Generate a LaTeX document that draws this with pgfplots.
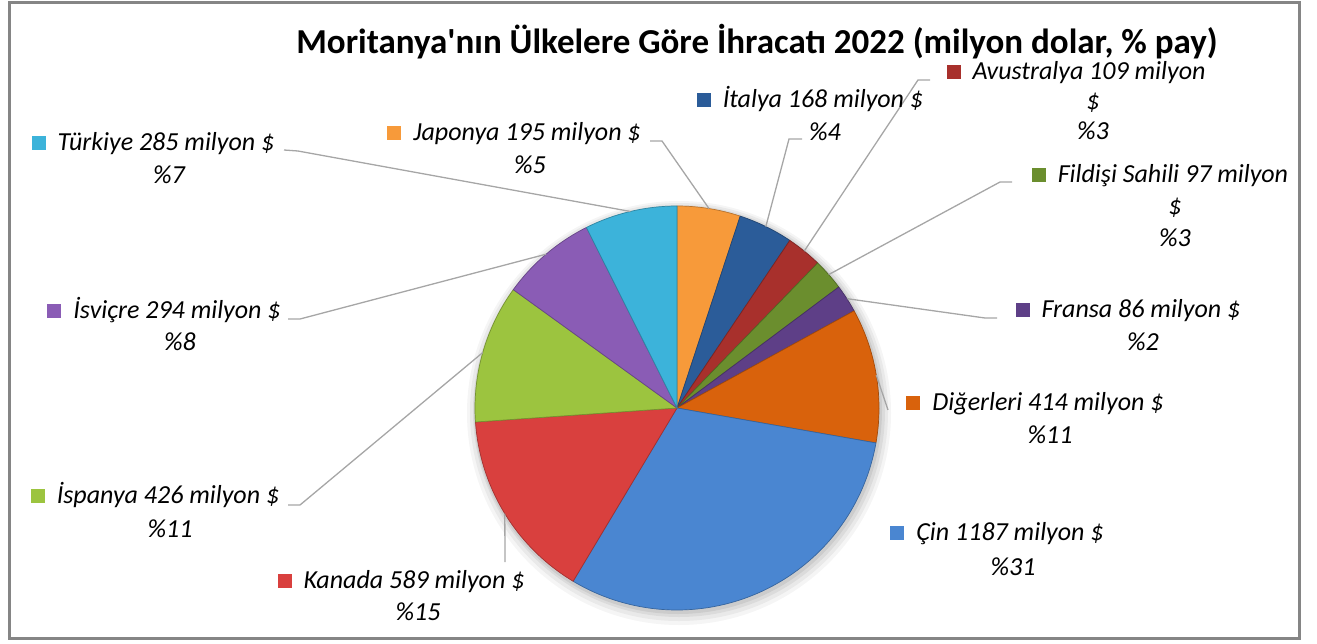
\documentclass[border=0pt]{standalone}
\usepackage{fontspec}
\setmainfont{Carlito}
\newfontfamily\tfont{Carlito}
\usepackage{pgfplots}
\usepackage{pgfplotstable}
\pgfplotsset{compat=1.18}
\usetikzlibrary{calc}

\definecolor{cJap}{HTML}{F79A3A}
\definecolor{cIta}{HTML}{2B5C99}
\definecolor{cAvu}{HTML}{A8302C}
\definecolor{cFil}{HTML}{6B8E2E}
\definecolor{cFra}{HTML}{5E3F87}
\definecolor{cDig}{HTML}{D9620C}
\definecolor{cCin}{HTML}{4A86D1}
\definecolor{cKan}{HTML}{D9403E}
\definecolor{cIsp}{HTML}{9CC43F}
\definecolor{cIsv}{HTML}{8A5CB5}
\definecolor{cTur}{HTML}{3CB3DA}
\definecolor{leader}{HTML}{A6A6A6}

% slices in clockwise order starting at 12 o'clock
\pgfplotstableread{
key value col
Japonya 195 cJap
Italya 168 cIta
Avustralya 109 cAvu
Fildisi 97 cFil
Fransa 86 cFra
Digerleri 414 cDig
Cin 1187 cCin
Kanada 589 cKan
Ispanya 426 cIsp
Isvicre 294 cIsv
Turkiye 285 cTur
}\pietable

\newcommand\labfont{\fontsize{26}{30}\selectfont\itshape}
\newcommand\mk[1]{\llap{\textcolor{#1}{\rule{14pt}{14pt}}\hspace{12pt}}}

\begin{document}
\begin{tikzpicture}
\begin{axis}[
  width=1317pt, height=643pt, scale only axis,
  xmin=0, xmax=1317, ymin=0, ymax=643, y dir=reverse,
  hide axis, clip=false]
\path (axis cs:0,0) rectangle (axis cs:1317,643);
\draw[line width=3pt, color=black!48] (axis cs:9,2) rectangle (axis cs:1299,638);

% total
\pgfplotstablegetrowsof{\pietable}
\pgfmathtruncatemacro\nrows{\pgfplotsretval-1}
\def\total{0}
\pgfplotsforeachungrouped \i in {0,...,\nrows}{%
  \pgfplotstablegetelem{\i}{value}\of\pietable
  \pgfmathsetmacro\total{\total+\pgfplotsretval}%
}
% soft shadow
\fill[black, opacity=0.04] (axis cs:679,413) circle[radius=212pt];
\fill[black, opacity=0.05] (axis cs:679,412) circle[radius=209pt];
\fill[black, opacity=0.06] (axis cs:679,411) circle[radius=206pt];
\fill[black, opacity=0.07] (axis cs:678,410) circle[radius=204pt];

\def\cum{0}
\pgfplotsforeachungrouped \i in {0,...,\nrows}{%
  \pgfplotstablegetelem{\i}{value}\of\pietable \let\v\pgfplotsretval
  \pgfplotstablegetelem{\i}{col}\of\pietable \let\c\pgfplotsretval
  \pgfmathsetmacro\aS{90-\cum/\total*360}%
  \pgfmathsetmacro\cum{\cum+\v}%
  \pgfmathsetmacro\aE{90-\cum/\total*360}%
  \pgfmathsetmacro\aM{(\aS+\aE)/2}%
  \edef\temp{%
    \noexpand\fill[\c, draw=\c!75!black, line width=0.7pt, line join=round]
      (axis cs:677,408) -- ++(\aS:202pt) arc[start angle=\aS, end angle=\aE, radius=202pt] -- cycle;
    \noexpand\coordinate (m\i) at ($(axis cs:677,408)+(\aM:202pt)$);
  }\temp
}

% leader lines
\begin{scope}[leader, line width=1.3pt]
\draw (axis cs:650,141) -- (axis cs:662,141) -- (m0);
\draw (axis cs:802,139) -- (axis cs:789,139) -- (m1);
\draw (axis cs:930,80) -- (axis cs:918,80) -- (m2);
\draw (axis cs:1012,182) -- (axis cs:1000,182) -- (m3);
\draw (axis cs:997,318) -- (axis cs:985,318) -- (m4);
\draw (axis cs:888,410) -- (m5);
\draw (axis cs:505,562) -- (m7);
\draw (axis cs:288,505) -- (axis cs:300,505) -- (m8);
\draw (axis cs:288,319) -- (axis cs:300,319) -- (m9);
\draw (axis cs:284,150) -- (axis cs:298,151) -- (m10);
\end{scope}

% title
\node[anchor=base, inner sep=0pt] at (axis cs:757,53)
  {\tfont\fontsize{35}{40}\selectfont\bfseries Moritanya'nın Ülkelere Göre İhracatı 2022 (milyon dolar, \% pay)};

% labels
\begin{scope}[every node/.style={anchor=base, inner sep=0pt, font=\labfont}]
\node at (axis cs:527,140) {\mk{cJap}Japonya 195 milyon \$};
\node at (axis cs:530,173) {\%5};
\node at (axis cs:823,107) {\mk{cIta}İtalya 168 milyon \$};
\node at (axis cs:825,140) {\%4};
\node at (axis cs:1089,79) {\mk{cAvu}Avustralya 109 milyon};
\node at (axis cs:1093,109) {\$};
\node at (axis cs:1093,139) {\%3};
\node at (axis cs:1173,182) {\mk{cFil}Fildişi Sahili 97 milyon};
\node at (axis cs:1175,214) {\$};
\node at (axis cs:1175,246) {\%3};
\node at (axis cs:1141,317) {\mk{cFra}Fransa 86 milyon \$};
\node at (axis cs:1143,350) {\%2};
\node at (axis cs:1048,410) {\mk{cDig}Diğerleri 414 milyon \$};
\node at (axis cs:1050,443) {\%11};
\node at (axis cs:1010,540) {\mk{cCin}Çin 1187 milyon \$};
\node at (axis cs:1013,575) {\%31};
\node at (axis cs:414,588) {\mk{cKan}Kanada 589 milyon \$};
\node at (axis cs:418,620) {\%15};
\node at (axis cs:168,503) {\mk{cIsp}İspanya 426 milyon \$};
\node at (axis cs:170,537) {\%11};
\node at (axis cs:177,318) {\mk{cIsv}İsviçre 294 milyon \$};
\node at (axis cs:180,350) {\%8};
\node at (axis cs:166,150) {\mk{cTur}Türkiye 285 milyon \$};
\node at (axis cs:169,183) {\%7};
\end{scope}
\end{axis}
\end{tikzpicture}
\end{document}
